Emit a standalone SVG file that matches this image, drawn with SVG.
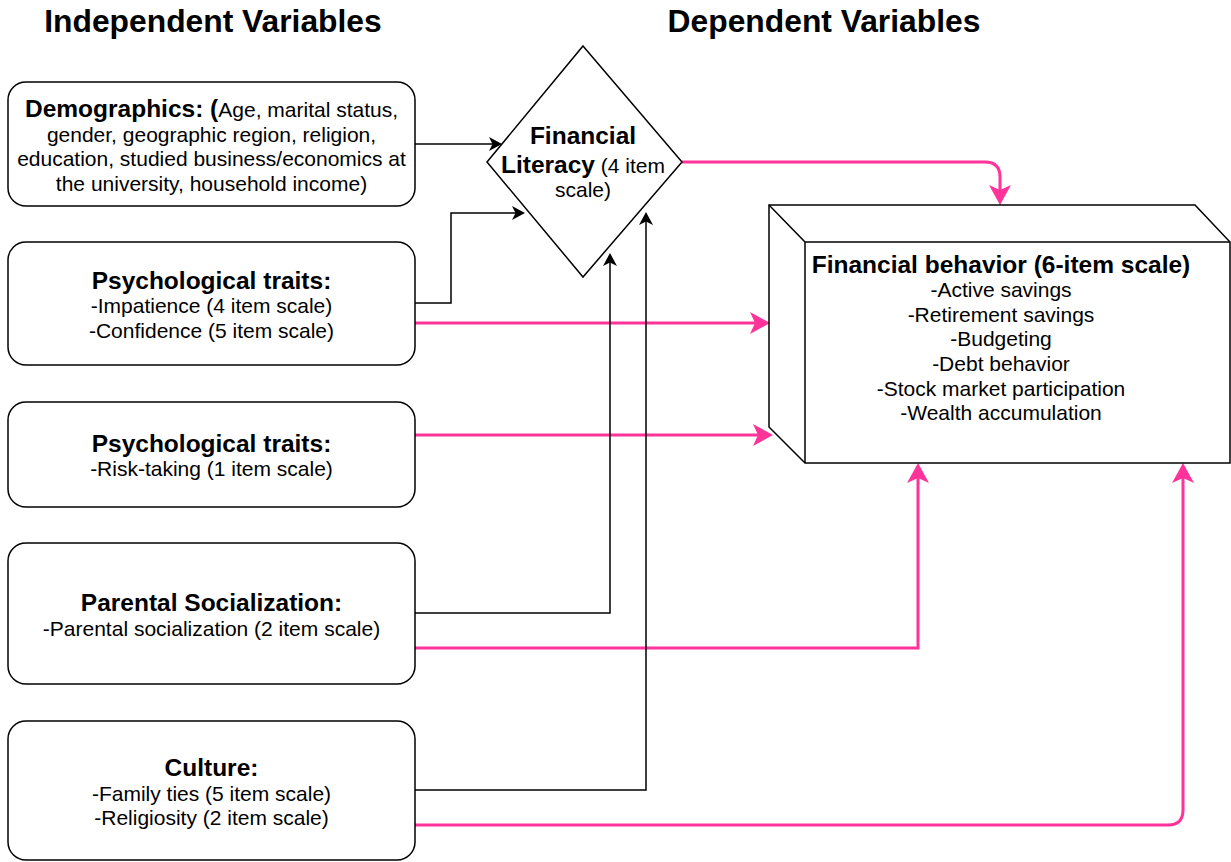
<svg xmlns="http://www.w3.org/2000/svg" width="1231" height="862" viewBox="0 0 1231 862">
<style>
text{font-family:"Liberation Sans",Arial,Helvetica,sans-serif;fill:#000;text-anchor:middle}
.h{font-size:31.8px;font-weight:bold}
.b{font-size:24.5px;font-weight:bold}
.r{font-size:21px;font-weight:normal}
.node{fill:#fff;stroke:#000;stroke-width:1.5}
.blk{fill:none;stroke:#000;stroke-width:1.5}
.pnk{fill:none;stroke:#FF3399;stroke-width:3}
</style>
<defs>
<marker id="ap" viewBox="0 0 20 22" refX="15" refY="11" markerWidth="20" markerHeight="22" markerUnits="userSpaceOnUse" orient="auto">
<path d="M0,0 L20,11 L0,22 L5,11 Z" fill="#FF3399"/>
</marker>
<marker id="ab" viewBox="0 0 13 14" refX="9" refY="7" markerWidth="13" markerHeight="14" markerUnits="userSpaceOnUse" orient="auto">
<path d="M0,0 L13,7 L0,14 L3.5,7 Z" fill="#000"/>
</marker>
</defs>
<rect width="1231" height="862" fill="#fff"/>
<g id="headings">
<text class="h" x="213" y="32">Independent Variables</text>
<text class="h" x="824" y="32">Dependent Variables</text>
</g>
<g id="connectors">
<path class="pnk" d="M415,323 H765" marker-end="url(#ap)"/>
<path class="pnk" d="M415,435 H768" marker-end="url(#ap)"/>
<path class="pnk" d="M415,648 H918 V468" marker-end="url(#ap)"/>
<path class="pnk" d="M415,825 H1168 Q1183,825 1183,810 V468" marker-end="url(#ap)"/>
<path class="pnk" d="M682,162 H985 Q1000,162 1000,177 V200" marker-end="url(#ap)"/>
<path class="blk" d="M415,144 H498" marker-end="url(#ab)"/>
<path class="blk" d="M415,303 H451 V213 H521" marker-end="url(#ab)"/>
<path class="blk" d="M415,613 H610 V257" marker-end="url(#ab)"/>
<path class="blk" d="M415,790 H646 V216" marker-end="url(#ab)"/>
</g>
<g id="demographics">
<rect class="node" x="8" y="82" width="407" height="124" rx="18"/>
<text x="211.5" y="117"><tspan class="b">Demographics: (</tspan><tspan class="r">Age, marital status,</tspan></text>
<text class="r" x="211.5" y="142">gender, geographic region, religion,</text>
<text class="r" x="211.5" y="166">education, studied business/economics at</text>
<text class="r" x="211.5" y="191">the university, household income)</text>
</g>
<g id="psych1">
<rect class="node" x="8" y="242" width="407" height="123" rx="18"/>
<text class="b" x="211.5" y="289">Psychological traits:</text>
<text class="r" x="211.5" y="313">-Impatience (4 item scale)</text>
<text class="r" x="211.5" y="338">-Confidence (5 item scale)</text>
</g>
<g id="psych2">
<rect class="node" x="8" y="402" width="407" height="105" rx="18"/>
<text class="b" x="211.5" y="452">Psychological traits:</text>
<text class="r" x="211.5" y="476">-Risk-taking (1 item scale)</text>
</g>
<g id="parental">
<rect class="node" x="8" y="543" width="407" height="141" rx="18"/>
<text class="b" x="211.5" y="611">Parental Socialization:</text>
<text class="r" x="211.5" y="636">-Parental socialization (2 item scale)</text>
</g>
<g id="culture">
<rect class="node" x="8" y="721" width="407" height="139" rx="18"/>
<text class="b" x="211.5" y="776">Culture:</text>
<text class="r" x="211.5" y="801">-Family ties (5 item scale)</text>
<text class="r" x="211.5" y="825">-Religiosity (2 item scale)</text>
</g>
<g id="financial-literacy">
<polygon class="node" points="583,46 682,162 583,277 487,162"/>
<text class="b" x="583" y="144">Financial</text>
<text x="583" y="173"><tspan class="b">Literacy</tspan><tspan class="r"> (4 item</tspan></text>
<text class="r" x="583" y="197">scale)</text>
</g>
<g id="financial-behavior">
<path class="node" d="M769,205 H1195 L1230,242 V463 H805 L769,427 Z"/>
<path class="blk" d="M769,205 L805,242 H1230 M805,242 V463"/>
<text class="b" x="1001" y="273">Financial behavior (6-item scale)</text>
<text class="r" x="1001" y="297">-Active savings</text>
<text class="r" x="1001" y="322">-Retirement savings</text>
<text class="r" x="1001" y="346">-Budgeting</text>
<text class="r" x="1001" y="371">-Debt behavior</text>
<text class="r" x="1001" y="396">-Stock market participation</text>
<text class="r" x="1001" y="420">-Wealth accumulation</text>
</g>
</svg>
